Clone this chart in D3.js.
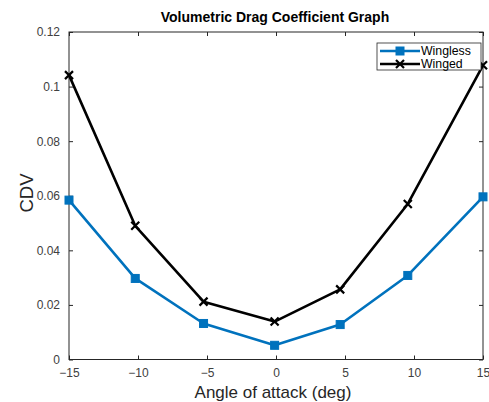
<!DOCTYPE html>
<html>
<head>
<meta charset="utf-8">
<script src="https://cdn.jsdelivr.net/npm/d3@7"></script>
<style>
  html, body { margin: 0; padding: 0; background: #fff; }
  svg { display: block; font-family: Arial, "Liberation Sans", sans-serif; }
</style>
</head>
<body>
<svg id="chart" width="489" height="402"></svg>
<script>
// Angle of attack (deg) for each measurement
const anglesWingless = [-15, -10.2, -5.25, -0.1, 4.65, 9.55, 15];
const anglesWinged   = [-15, -10.2, -5.25, -0.1, 4.65, 9.55, 15];
// Volumetric drag coefficient
const cdvWingless = [0.0584, 0.0297, 0.0132, 0.0052, 0.0128, 0.0308, 0.0596];
const cdvWinged   = [0.1042, 0.0490, 0.0212, 0.0139, 0.0257, 0.0570, 0.1078];
const xTicks = [-15, -10, -5, 0, 5, 10, 15];
const yTicks = [0, 0.02, 0.04, 0.06, 0.08, 0.1, 0.12];
const seriesNames = ["Wingless", "Winged"];

const svg = d3.select("#chart");
const m = { left: 69, right: 483, top: 32, bottom: 359.5 };

const x = d3.scaleLinear().domain([-15, 15]).range([m.left, m.right]);
const y = d3.scaleLinear().domain([0, 0.12]).range([m.bottom, m.top]);

const axisColor = "#262626";
const tickText = "#404040";
const fmtY = d => d === 0 ? "0" : String(+d.toFixed(2));

// plot box
svg.append("rect")
  .attr("x", m.left).attr("y", m.top)
  .attr("width", m.right - m.left).attr("height", m.bottom - m.top)
  .attr("fill", "#fff").attr("stroke", axisColor).attr("stroke-width", 1);

// inward ticks on all four sides (MATLAB box style)
function styleAxis(g) {
  g.select(".domain").remove();
  g.selectAll(".tick line").attr("stroke", axisColor);
  g.selectAll(".tick text").attr("fill", tickText).attr("font-size", 12);
}
svg.append("g").attr("transform", `translate(0,${m.bottom})`)
  .call(d3.axisBottom(x).tickValues(xTicks).tickSizeInner(-4).tickSizeOuter(0).tickPadding(9))
  .call(styleAxis);
svg.append("g").attr("transform", `translate(0,${m.top})`)
  .call(d3.axisTop(x).tickValues(xTicks).tickSizeInner(-4).tickSizeOuter(0).tickFormat(""))
  .call(styleAxis);
svg.append("g").attr("transform", `translate(${m.left},0)`)
  .call(d3.axisLeft(y).tickValues(yTicks).tickSizeInner(-4).tickSizeOuter(0).tickPadding(9).tickFormat(fmtY))
  .call(styleAxis);
svg.append("g").attr("transform", `translate(${m.right},0)`)
  .call(d3.axisRight(y).tickValues(yTicks).tickSizeInner(-4).tickSizeOuter(0).tickFormat(""))
  .call(styleAxis);

// series
const series = [
  { name: seriesNames[0], xs: anglesWingless, ys: cdvWingless, color: "#0072BD", marker: "square" },
  { name: seriesNames[1], xs: anglesWinged, ys: cdvWinged, color: "#000000", marker: "cross" }
];
const line = d3.line().x(d => x(d[0])).y(d => y(d[1]));

function drawMarker(g, cx, cy, s) {
  if (s.marker === "square") {
    g.append("rect").attr("x", cx - 4).attr("y", cy - 4).attr("width", 8).attr("height", 8)
      .attr("fill", s.color).attr("stroke", s.color).attr("stroke-width", 1);
  } else {
    g.append("path")
      .attr("d", `M${cx - 4},${cy - 4}L${cx + 4},${cy + 4}M${cx - 4},${cy + 4}L${cx + 4},${cy - 4}`)
      .attr("stroke", s.color).attr("stroke-width", 2.2).attr("fill", "none");
  }
}

series.forEach(s => {
  const pts = s.xs.map((v, i) => [v, s.ys[i]]);
  const g = svg.append("g");
  g.append("path").datum(pts).attr("d", line)
    .attr("fill", "none").attr("stroke", s.color).attr("stroke-width", 2.6)
    .attr("stroke-linejoin", "round");
  pts.forEach(p => drawMarker(g, x(p[0]), y(p[1]), s));
});

// title and axis labels
svg.append("text").attr("x", 275).attr("y", 22)
  .attr("text-anchor", "middle").attr("font-size", 14).attr("font-weight", "bold")
  .attr("fill", "#000").text("Volumetric Drag Coefficient Graph");
svg.append("text").attr("x", 273).attr("y", 398)
  .attr("text-anchor", "middle").attr("font-size", 17)
  .attr("fill", axisColor).text("Angle of attack (deg)");
svg.append("text")
  .attr("transform", `translate(33,193) rotate(-90)`)
  .attr("text-anchor", "middle").attr("font-size", 18.5)
  .attr("fill", axisColor).text("CDV");

// legend
const lg = svg.append("g");
lg.append("rect").attr("x", 377).attr("y", 43).attr("width", 104).attr("height", 27)
  .attr("fill", "#fff").attr("stroke", "#262626").attr("stroke-width", 0.8);
series.forEach((s, i) => {
  const ly = 51 + i * 13;
  lg.append("line").attr("x1", 380).attr("x2", 420).attr("y1", ly).attr("y2", ly)
    .attr("stroke", s.color).attr("stroke-width", 2.6);
  drawMarker(lg, 400, ly, s);
  lg.append("text").attr("x", 421).attr("y", ly + 4).attr("font-size", 12.3)
    .attr("fill", "#000").text(s.name);
});
</script>
</body>
</html>
